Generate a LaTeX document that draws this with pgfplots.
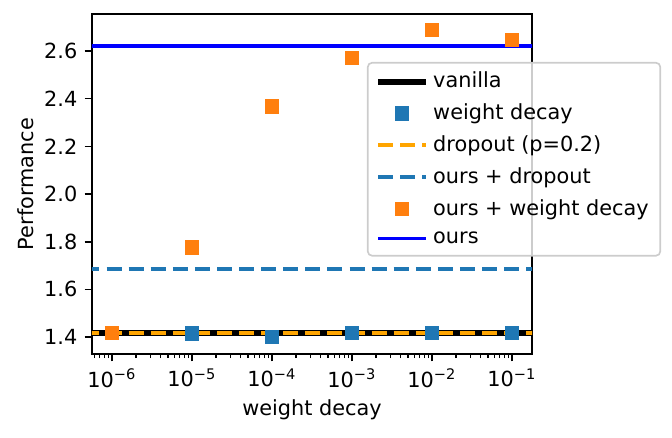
\documentclass[border=0pt]{standalone}
\usepackage{fontspec}
\setmainfont{DejaVu Sans}
\usepackage{pgfplots}
\pgfplotsset{compat=1.18}
\definecolor{tabblue}{HTML}{1F77B4}
\definecolor{taborange}{HTML}{FF7F0E}
\definecolor{mplorange}{HTML}{FFA500}
\definecolor{legframe}{HTML}{CCCCCC}
\begin{document}
\begin{tikzpicture}
\useasboundingbox (-44.16pt,-39.84pt) rectangle (278.4pt,169.92pt);
\begin{axis}[
  at={(0,0)}, anchor=south west,
  scale only axis, width=211.2pt, height=163.2pt,
  xmode=log, log basis x=10,
  xmin=5.623e-7, xmax=0.1778,
  ymin=1.329, ymax=2.755,
  xtick={1e-6,1e-5,1e-4,1e-3,1e-2,1e-1},
  xticklabels={10\textsuperscript{−6},10\textsuperscript{−5},10\textsuperscript{−4},10\textsuperscript{−3},10\textsuperscript{−2},10\textsuperscript{−1}},
  minor xtick={6e-7,7e-7,8e-7,9e-7,
    2e-6,3e-6,4e-6,5e-6,6e-6,7e-6,8e-6,9e-6,
    2e-5,3e-5,4e-5,5e-5,6e-5,7e-5,8e-5,9e-5,
    2e-4,3e-4,4e-4,5e-4,6e-4,7e-4,8e-4,9e-4,
    2e-3,3e-3,4e-3,5e-3,6e-3,7e-3,8e-3,9e-3,
    2e-2,3e-2,4e-2,5e-2,6e-2,7e-2,8e-2,9e-2},
  ytick={1.4,1.6,1.8,2.0,2.2,2.4,2.6},
  yticklabels={1.4,1.6,1.8,2.0,2.2,2.4,2.6},
  tick align=outside, tick pos=left,
  major tick length=3.5pt, minor tick length=2pt,
  every major tick/.style={black, line width=0.8pt},
  every minor tick/.style={black, line width=0.6pt},
  axis line style={line width=0.8pt},
  tick label style={font=\fontsize{10}{12}\selectfont},
  label style={font=\fontsize{10}{12}\selectfont},
  xlabel={weight decay}, ylabel={Performance},
  every axis x label/.style={at={(axis description cs:0.5,0)}, anchor=center, yshift=-26.9pt},
  every axis y label/.style={at={(axis description cs:-0.1515,0.5)}, rotate=90, anchor=center},
  legend image code/.code={\draw[mark repeat=2,mark phase=2,#1] plot coordinates {(0pt,0pt) (11.5pt,0pt) (23pt,0pt)};},
  legend image post style={fill opacity=1, draw opacity=1},
  legend cell align=left,
  legend style={at={(rel axis cs:0.625,0.859)}, anchor=north west,
    fill=white, fill opacity=0.8, draw opacity=1, text opacity=1,
    draw=legframe, rounded corners=2pt, line width=0.8pt,
    font=\fontsize{10}{12}\selectfont, row sep=2.2pt,
    inner xsep=3.5pt, inner ysep=2.5pt},
  clip=true,
]
\addplot[black, line width=2.9pt] coordinates {(1e-8,1.417) (1,1.417)};
\addlegendentry{vanilla}
\addplot[only marks, mark=square*, mark size=3.3pt, color=tabblue, mark options={draw=tabblue, fill=tabblue, line width=0pt}] coordinates {
(1e-6,1.417) (1e-5,1.416) (1e-4,1.400) (1e-3,1.417) (1e-2,1.417) (1e-1,1.417)};
\addlegendentry{weight decay}
\addplot[mplorange, line width=1.9pt, dash pattern=on 7.2pt off 3.4pt] coordinates {(1e-8,1.417) (1,1.417)};
\addlegendentry{dropout (p=0.2)}
\addplot[tabblue, line width=1.9pt, dash pattern=on 7.2pt off 3.4pt] coordinates {(1e-8,1.684) (1,1.684)};
\addlegendentry{ours + dropout}
\addplot[only marks, mark=square*, mark size=3.3pt, color=taborange, mark options={draw=taborange, fill=taborange, line width=0pt}] coordinates {
(1e-6,1.417) (1e-5,1.775) (1e-4,2.366) (1e-3,2.571) (1e-2,2.688) (1e-1,2.646)};
\addlegendentry{ours + weight decay}
\addplot[blue, line width=1.5pt] coordinates {(1e-8,2.621) (1,2.621)};
\addlegendentry{ours}
\end{axis}
\end{tikzpicture}
\end{document}
